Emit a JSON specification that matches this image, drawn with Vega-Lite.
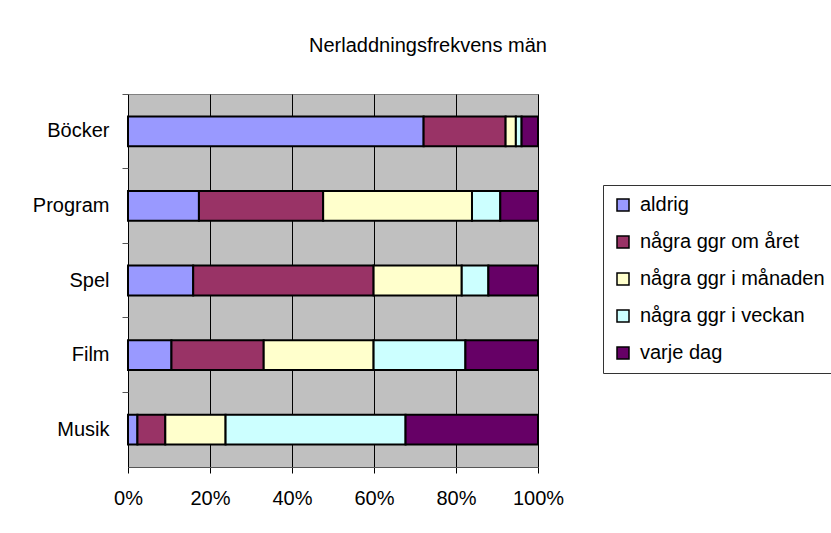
{
  "$schema": "https://vega.github.io/schema/vega-lite/v6.json",
  "width": 410,
  "height": 373,
  "autosize": "none",
  "padding": {"left": 128, "top": 94, "right": 293, "bottom": 66},
  "background": "white",
  "title": {
    "text": "Nerladdningsfrekvens män",
    "font": "Liberation Sans",
    "fontSize": 20,
    "fontWeight": "normal",
    "color": "black",
    "anchor": "middle",
    "frame": "group",
    "dx": 95,
    "baseline": "alphabetic",
    "offset": 22
  },
  "data": {
    "values": [
      {"kategori": "Böcker", "frekvens": "aldrig", "idx": 1, "andel": 72.1},
      {"kategori": "Böcker", "frekvens": "några ggr om året", "idx": 2, "andel": 20.0},
      {"kategori": "Böcker", "frekvens": "några ggr i månaden", "idx": 3, "andel": 2.5},
      {"kategori": "Böcker", "frekvens": "några ggr i veckan", "idx": 4, "andel": 1.4},
      {"kategori": "Böcker", "frekvens": "varje dag", "idx": 5, "andel": 4.0},
      {"kategori": "Program", "frekvens": "aldrig", "idx": 1, "andel": 17.3},
      {"kategori": "Program", "frekvens": "några ggr om året", "idx": 2, "andel": 30.3},
      {"kategori": "Program", "frekvens": "några ggr i månaden", "idx": 3, "andel": 36.3},
      {"kategori": "Program", "frekvens": "några ggr i veckan", "idx": 4, "andel": 6.9},
      {"kategori": "Program", "frekvens": "varje dag", "idx": 5, "andel": 9.2},
      {"kategori": "Spel", "frekvens": "aldrig", "idx": 1, "andel": 15.9},
      {"kategori": "Spel", "frekvens": "några ggr om året", "idx": 2, "andel": 44.0},
      {"kategori": "Spel", "frekvens": "några ggr i månaden", "idx": 3, "andel": 21.5},
      {"kategori": "Spel", "frekvens": "några ggr i veckan", "idx": 4, "andel": 6.5},
      {"kategori": "Spel", "frekvens": "varje dag", "idx": 5, "andel": 12.1},
      {"kategori": "Film", "frekvens": "aldrig", "idx": 1, "andel": 10.6},
      {"kategori": "Film", "frekvens": "några ggr om året", "idx": 2, "andel": 22.5},
      {"kategori": "Film", "frekvens": "några ggr i månaden", "idx": 3, "andel": 26.8},
      {"kategori": "Film", "frekvens": "några ggr i veckan", "idx": 4, "andel": 22.4},
      {"kategori": "Film", "frekvens": "varje dag", "idx": 5, "andel": 17.7},
      {"kategori": "Musik", "frekvens": "aldrig", "idx": 1, "andel": 2.3},
      {"kategori": "Musik", "frekvens": "några ggr om året", "idx": 2, "andel": 6.8},
      {"kategori": "Musik", "frekvens": "några ggr i månaden", "idx": 3, "andel": 14.7},
      {"kategori": "Musik", "frekvens": "några ggr i veckan", "idx": 4, "andel": 43.9},
      {"kategori": "Musik", "frekvens": "varje dag", "idx": 5, "andel": 32.3}
    ]
  },
  "mark": {"type": "bar", "height": {"band": 0.4}, "stroke": "black", "strokeWidth": 2},
  "encoding": {
    "y": {
      "field": "kategori",
      "type": "nominal",
      "sort": ["Böcker", "Program", "Spel", "Film", "Musik"],
      "scale": {"paddingInner": 0, "paddingOuter": 0},
      "axis": {
        "title": null,
        "bandPosition": 0,
        "domain": false,
        "ticks": true,
        "tickSize": 6,
        "tickColor": "#555555",
        "labelFont": "Liberation Sans",
        "labelFontSize": 20,
        "labelColor": "black",
        "labelPadding": 13,
        "labelOffset": 0
      }
    },
    "x": {
      "field": "andel",
      "type": "quantitative",
      "stack": "normalize",
      "scale": {"domain": [0, 1], "nice": false},
      "axis": {
        "title": null,
        "format": "%",
        "values": [0, 0.2, 0.4, 0.6, 0.8, 1],
        "grid": true,
        "gridColor": "black",
        "gridWidth": 1,
        "gridOpacity": 1,
        "domain": true,
        "domainColor": "#555555",
        "tickSize": 6,
        "tickColor": "black",
        "labelFont": "Liberation Sans",
        "labelFontSize": 20,
        "labelColor": "black",
        "labelPadding": 15,
        "labelFlush": false
      }
    },
    "color": {
      "field": "frekvens",
      "type": "nominal",
      "sort": ["aldrig", "några ggr om året", "några ggr i månaden", "några ggr i veckan", "varje dag"],
      "scale": {
        "domain": ["aldrig", "några ggr om året", "några ggr i månaden", "några ggr i veckan", "varje dag"],
        "range": ["#9999FF", "#993366", "#FFFFCC", "#CCFFFF", "#660066"]
      },
      "legend": {
        "title": null,
        "orient": "none",
        "legendX": 475,
        "legendY": 91,
        "strokeColor": "#333333",
        "fillColor": "white",
        "padding": 10,
        "symbolType": "square",
        "symbolSize": 144,
        "symbolStrokeColor": "black",
        "symbolStrokeWidth": 1.5,
        "labelFont": "Liberation Sans",
        "labelFontSize": 20,
        "labelColor": "black",
        "labelLimit": 300,
        "labelOffset": 7,
        "rowPadding": 17
      }
    },
    "order": {"field": "idx", "type": "quantitative"}
  },
  "config": {
    "view": {"fill": "#C0C0C0", "stroke": "#808080", "strokeWidth": 1},
    "legend": {"symbolOpacity": 1}
  }
}
